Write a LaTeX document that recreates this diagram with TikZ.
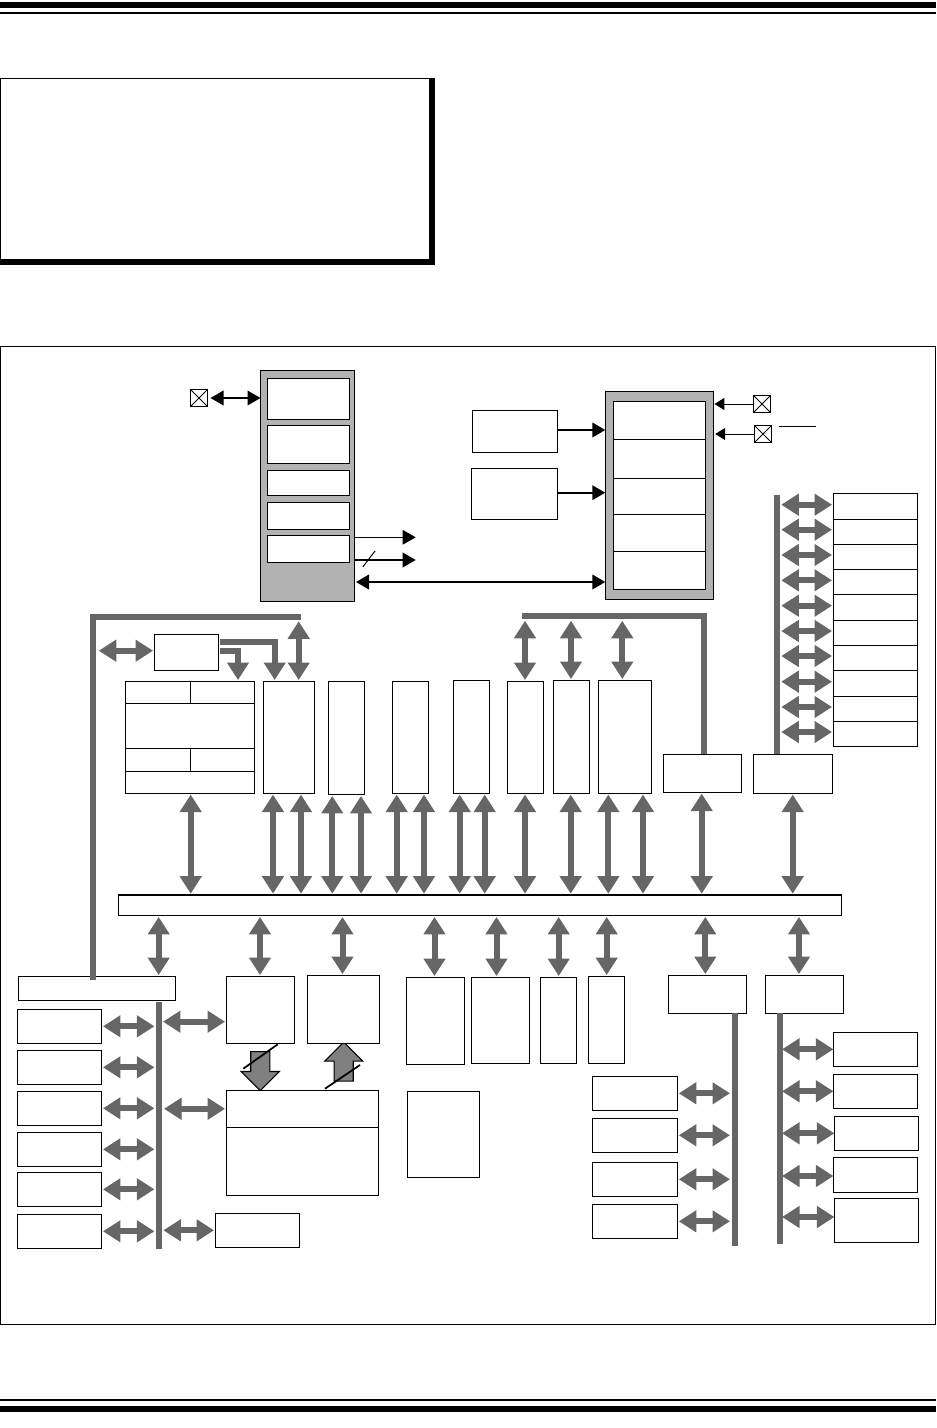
\documentclass[tikz,border=0pt]{standalone}
\usepackage{tikz}
\usetikzlibrary{arrows.meta,shapes.arrows}

\begin{document}
\begin{tikzpicture}[x=0.2mm, y=-0.2mm,
  box/.style 2 args={draw, fill=white, line width=0.22mm, inner sep=0pt, outer sep=0pt, minimum width=#1*0.2mm, minimum height=#2*0.2mm},
  block/.style 2 args={box={#1}{#2}, fill=black!30},
  rail/.style 2 args={fill=black!60, inner sep=0pt, outer sep=0pt, minimum width=#1*0.2mm, minimum height=#2*0.2mm},
  pin/.style={box={17}{17}, path picture={\draw[line width=0.15mm] (path picture bounding box.north west) -- (path picture bounding box.south east) (path picture bounding box.north east) -- (path picture bounding box.south west);}},
  trunk/.style={draw=black!60, line width=1.2mm},
  bigarrow/.style={>={Triangle[length=3.5mm,width=4.2mm]}, <->, draw=black!60, line width=1.2mm, shorten >=0.25mm, shorten <=0.25mm},
  oneway/.style={bigarrow, ->},
  wire/.style={>={Triangle[length=2.6mm,width=2.9mm]}, ->, line width=0.42mm},
  thinwire/.style={wire, line width=0.2mm},
  pinwire/.style={>={Triangle[length=2mm,width=2.4mm]}, ->, line width=0.2mm},
  fatarrow/.style={single arrow, draw, fill=black!50, line width=0.22mm, inner xsep=0pt, inner ysep=1.8mm, minimum width=7.4mm, minimum height=7.8mm, single arrow head extend=1.9mm}]
  \useasboundingbox (0,0) rectangle (936,1428);
  \fill (0,2) rectangle (936,8);
  \fill (0,12) rectangle (936,14);
  \fill (0,1399) rectangle (936,1401);
  \fill (0,1406) rectangle (936,1412);
  \node[rail={435}{187}, fill=black] (noteshadow) at (217.5,171.5) {};
  \node[rail={428}{180}, fill=white] (note) at (215,169) {};
  \node[box={934.5}{978.5}, fill=none] (board) at (467.8,835.3) {};

  \node[block={94}{231}] (block) at (307.5,486) {};
  \node[box={82}{41}] (blockone) at (308.5,399) {};
  \node[box={82}{38}] (blocktwo) at (308.5,444.5) {};
  \node[box={82}{25}] (blockthree) at (308.5,483) {};
  \node[box={82}{27}] (blockfour) at (308.5,516) {};
  \node[box={82}{27}] (blockfive) at (308.5,549) {};
  \node[pin] (pina) at (199,398) {};
  \draw[wire, <->, shorten <=0.6mm] (pina.east) -- (block.west |- pina.east);
  \coordinate (outa) at (415.7,537.3);
  \coordinate (outb) at (415.7,560);
  \draw[thinwire] (block.east |- outa) -- (outa);
  \draw[wire] (block.east |- outb) -- (outb);
  \draw[line width=0.2mm] (363,566.7) -- (375,551);

  \node[block={108.4}{208}] (frame) at (659.5,495.3) {};
  \node[box={92.4}{38}] (frameone) at (659.5,420.3) {};
  \node[box={92.4}{39}] (frametwo) at (659.5,458.8) {};
  \node[box={92.4}{36}] (framethree) at (659.5,496.3) {};
  \node[box={92.4}{37}] (framefour) at (659.5,532.8) {};
  \node[box={92.4}{38}] (framefive) at (659.5,570.3) {};
  \node[box={85.4}{42}] (srcone) at (515,431.3) {};
  \node[box={86.4}{51}] (srctwo) at (514.5,493.8) {};
  \node[pin] (pinb) at (762,404) {};
  \node[pin] (pinc) at (763,434) {};
  \draw[wire] (srcone.east |- 0,430) -- (frame.west |- 0,430);
  \draw[wire] (srctwo.east |- 0,492.7) -- (frame.west |- 0,492.7);
  \draw[pinwire, shorten >=0.15mm] (pinb.west) -- (frame.east |- pinb.west);
  \draw[pinwire, shorten >=0.3mm] (pinc.west) -- (frame.east |- pinc.west);
  \draw[wire, <->, shorten <=0.3mm] (block.east |- 0,582) -- (frame.west |- 0,582);
  \draw[line width=0.2mm] (779.3,426.3) -- (816,426.3);

  \node[box={65}{22}] (cella) at (157.8,692.3) {};
  \node[box={64.4}{22}] (cellb) at (222.5,692.3) {};
  \node[box={129.4}{45}] (cellc) at (190,725.8) {};
  \node[box={65}{23}] (celld) at (157.8,759.8) {};
  \node[box={64.4}{23}] (celle) at (222.5,759.8) {};
  \node[box={129.4}{22}] (cellf) at (190,782.3) {};
  \node[box={51}{112}] (perone) at (288.8,737.3) {};
  \node[box={36}{113.4}] (pertwo) at (346.3,738) {};
  \node[box={36}{112}] (perthree) at (410.3,737.3) {};
  \node[box={36}{113}] (perfour) at (471.3,736.8) {};
  \node[box={36.4}{112}] (perfive) at (525.5,737.3) {};
  \node[box={36.4}{113}] (persix) at (571.5,736.8) {};
  \node[box={53.4}{113}] (perseven) at (625,736.8) {};
  \node[box={78.4}{38.3}] (pereight) at (702.5,773.2) {};
  \node[box={79.4}{39.3}] (pernine) at (793,773.7) {};
  \node[box={723.4}{20.7}] (bus) at (480,905.3) {};
  \node[box={64.4}{36.4}] (ctl) at (186.5,652.5) {};

  \coordinate (trunka) at (301,617);
  \coordinate (trunkaend) at (93,980);
  \coordinate (trunkb) at (522,616);
  \coordinate (tapa) at (0,620);
  \coordinate (tapb) at (0,619.5);
  \coordinate (tapc) at (97.5,650.7);
  \draw[bigarrow] (tapc) -- (ctl.west |- tapc);
  \draw[oneway] (ctl.east |- 0,642.3) -| (274.7,0 |- perone.north);
  \draw[oneway] (ctl.east |- 0,650.7) -| (238,0 |- cellb.north);
  \draw[bigarrow] (298.7,0 |- tapa) -- (298.7,0 |- perone.north);
  \draw[bigarrow] (525,0 |- tapb) -- (525,0 |- perfive.north);
  \draw[bigarrow] (571,0 |- tapb) -- (571,0 |- persix.north);
  \draw[bigarrow] (622.3,0 |- tapb) -- (622.3,0 |- perseven.north);

  \draw[bigarrow] (190.7,0 |- cellf.south) -- (190.7,0 |- bus.north);
  \draw[bigarrow] (273,0 |- perone.south) -- (273,0 |- bus.north);
  \draw[bigarrow] (301,0 |- perone.south) -- (301,0 |- bus.north);
  \draw[bigarrow] (332.3,0 |- pertwo.south) -- (332.3,0 |- bus.north);
  \draw[bigarrow] (361,0 |- pertwo.south) -- (361,0 |- bus.north);
  \draw[bigarrow] (396.7,0 |- perthree.south) -- (396.7,0 |- bus.north);
  \draw[bigarrow] (424,0 |- perthree.south) -- (424,0 |- bus.north);
  \draw[bigarrow] (459.7,0 |- perfour.south) -- (459.7,0 |- bus.north);
  \draw[bigarrow] (484.7,0 |- perfour.south) -- (484.7,0 |- bus.north);
  \draw[bigarrow] (525,0 |- perfive.south) -- (525,0 |- bus.north);
  \draw[bigarrow] (570.7,0 |- persix.south) -- (570.7,0 |- bus.north);
  \draw[bigarrow] (608.3,0 |- perseven.south) -- (608.3,0 |- bus.north);
  \draw[bigarrow] (643,0 |- perseven.south) -- (643,0 |- bus.north);
  \draw[bigarrow] (701.7,0 |- pereight.south) -- (701.7,0 |- bus.north);
  \draw[bigarrow] (792.7,0 |- pernine.south) -- (792.7,0 |- bus.north);

  \node[box={84.4}{26}] (tabone) at (875.5,506.3) {};
  \node[box={84.4}{25}] (tabtwo) at (875.5,531.8) {};
  \node[box={84.4}{25}] (tabthree) at (875.5,556.8) {};
  \node[box={84.4}{25}] (tabfour) at (875.5,581.8) {};
  \node[box={84.4}{26}] (tabfive) at (875.5,607.3) {};
  \node[box={84.4}{25}] (tabsix) at (875.5,632.8) {};
  \node[box={84.4}{25}] (tabseven) at (875.5,657.8) {};
  \node[box={84.4}{26}] (tabeight) at (875.5,683.3) {};
  \node[box={84.4}{25}] (tabnine) at (875.5,708.8) {};
  \node[box={84.4}{25}] (tabten) at (875.5,733.8) {};
  \node[rail={6}{259}] (railc) at (777,624.5) {};
  \draw[bigarrow] (railc.east |- 0,504.7) -- (tabone.west |- 0,504.7);
  \draw[bigarrow] (railc.east |- 0,529.7) -- (tabtwo.west |- 0,529.7);
  \draw[bigarrow] (railc.east |- 0,555) -- (tabthree.west |- 0,555);
  \draw[bigarrow] (railc.east |- 0,580.3) -- (tabfour.west |- 0,580.3);
  \draw[bigarrow] (railc.east |- 0,605.7) -- (tabfive.west |- 0,605.7);
  \draw[bigarrow] (railc.east |- 0,631) -- (tabsix.west |- 0,631);
  \draw[bigarrow] (railc.east |- 0,656) -- (tabseven.west |- 0,656);
  \draw[bigarrow] (railc.east |- 0,681.7) -- (tabeight.west |- 0,681.7);
  \draw[bigarrow] (railc.east |- 0,707) -- (tabnine.west |- 0,707);
  \draw[bigarrow] (railc.east |- 0,732) -- (tabten.west |- 0,732);

  \node[box={157.4}{24.4}] (hdr) at (97,988.5) {};
  \node[box={84.4}{34}] (leftone) at (59.5,1026.3) {};
  \node[box={84.4}{34}] (lefttwo) at (59.5,1067.3) {};
  \node[box={84.4}{34}] (leftthree) at (59.5,1108.3) {};
  \node[box={84.4}{34}] (leftfour) at (59.5,1149.3) {};
  \node[box={84.4}{34}] (leftfive) at (59.5,1189.3) {};
  \node[box={84.4}{34}] (leftsix) at (59.5,1231.3) {};
  \node[rail={6}{246.7}] (raila) at (158.7,1125.3) {};
  \draw[bigarrow] (leftone.east) -- (raila.west |- leftone.east);
  \draw[bigarrow] (lefttwo.east) -- (raila.west |- lefttwo.east);
  \draw[bigarrow] (leftthree.east) -- (raila.west |- leftthree.east);
  \draw[bigarrow] (leftfour.east) -- (raila.west |- leftfour.east);
  \draw[bigarrow] (leftfive.east) -- (raila.west |- leftfive.east);
  \draw[bigarrow] (leftsix.east) -- (raila.west |- leftsix.east);
  \draw[trunk] (trunka) -| (trunkaend);
  \draw[trunk] (trunkb) -| (704,0 |- pereight.north);

  \node[fatarrow, rotate=-90] (fatdown) at (260.3,1066.3) {};
  \node[fatarrow, rotate=90] (fatup) at (343.7,1066.4) {};
  \node[box={68.4}{67}] (mema) at (260.5,1009.8) {};
  \node[box={72.4}{68}] (memb) at (343.5,1009.3) {};
  \node[box={152.4}{37}] (memtop) at (302.5,1108.8) {};
  \node[box={152.4}{68}] (membot) at (302.5,1161.3) {};
  \node[box={84.4}{34}] (aux) at (257.5,1230.3) {};
  \draw[bigarrow] (raila.east |- 0,1021.7) -- (mema.west |- 0,1021.7);
  \draw[bigarrow, shorten <=0.46mm] (raila.east |- memtop.west) -- (memtop.west);
  \draw[bigarrow, shorten <=0.33mm] (raila.east |- aux.west) -- (aux.west);
  \draw[line width=0.35mm] (243.3,1068.7) -- (277.7,1044.3);
  \draw[line width=0.35mm] (325,1088.7) -- (360,1065);

  \node[box={58.4}{87}] (lowa) at (435.4,1020.8) {};
  \node[box={58.1}{86}] (lowb) at (500.5,1020.3) {};
  \node[box={36.3}{86}] (lowc) at (558.6,1020.3) {};
  \node[box={36.2}{87}] (lowd) at (606.5,1019.8) {};
  \node[box={78.3}{38}] (lowe) at (707.5,994.3) {};
  \node[box={78.3}{38}] (lowf) at (804.6,994.3) {};
  \node[box={72.5}{86}] (rom) at (443.4,1134.3) {};
  \draw[bigarrow] (158.7,0 |- bus.south) -- (158.7,0 |- hdr.north);
  \draw[bigarrow] (260,0 |- bus.south) -- (260,0 |- mema.north);
  \draw[bigarrow] (342.5,0 |- bus.south) -- (342.5,0 |- memb.north);
  \draw[bigarrow] (434.5,0 |- bus.south) -- (434.5,0 |- lowa.north);
  \draw[bigarrow] (496.5,0 |- bus.south) -- (496.5,0 |- lowb.north);
  \draw[bigarrow] (558.7,0 |- bus.south) -- (558.7,0 |- lowc.north);
  \draw[bigarrow] (606.7,0 |- bus.south) -- (606.7,0 |- lowd.north);
  \draw[bigarrow] (705.3,0 |- bus.south) -- (705.3,0 |- lowe.north);
  \draw[bigarrow] (799,0 |- bus.south) -- (799,0 |- lowf.north);

  \node[box={85.1}{34}] (midone) at (635,1093.3) {};
  \node[box={85.1}{34}] (midtwo) at (635,1135.3) {};
  \node[box={85.1}{34}] (midthree) at (635,1179.3) {};
  \node[box={85.1}{34}] (midfour) at (635,1221.3) {};
  \node[rail={6}{232.7}] (raile) at (735,1129.4) {};
  \draw[bigarrow, shorten >=0.4mm] (midone.east) -- (raile.west |- midone.east);
  \draw[bigarrow, shorten >=0.4mm] (midtwo.east) -- (raile.west |- midtwo.east);
  \draw[bigarrow, shorten >=0.4mm] (midthree.east) -- (raile.west |- midthree.east);
  \draw[bigarrow, shorten >=0.4mm] (midfour.east) -- (raile.west |- midfour.east);

  \node[box={84.1}{34}] (rightone) at (875.5,1049.3) {};
  \node[box={84.1}{34}] (righttwo) at (875.5,1091.3) {};
  \node[box={84.1}{34}] (rightthree) at (876.5,1133.3) {};
  \node[box={84.1}{35}] (rightfour) at (875.5,1174.8) {};
  \node[box={84.1}{44}] (rightfive) at (876.5,1220.3) {};
  \node[rail={6}{230.7}] (railf) at (780,1128.4) {};
  \draw[bigarrow, shorten <=-0.2mm, shorten >=0pt] (railf.east |- rightone.west) -- (rightone.west);
  \draw[bigarrow, shorten <=-0.2mm, shorten >=0pt] (railf.east |- righttwo.west) -- (righttwo.west);
  \draw[bigarrow, shorten <=-0.2mm, shorten >=0pt] (railf.east |- rightthree.west) -- (rightthree.west);
  \draw[bigarrow, shorten <=-0.2mm, shorten >=0pt] (railf.east |- 0,1176) -- (rightfour.west |- 0,1176);
  \draw[bigarrow, shorten <=-0.2mm, shorten >=0pt] (railf.east |- 0,1217) -- (rightfive.west |- 0,1217);
\end{tikzpicture}
\end{document}
